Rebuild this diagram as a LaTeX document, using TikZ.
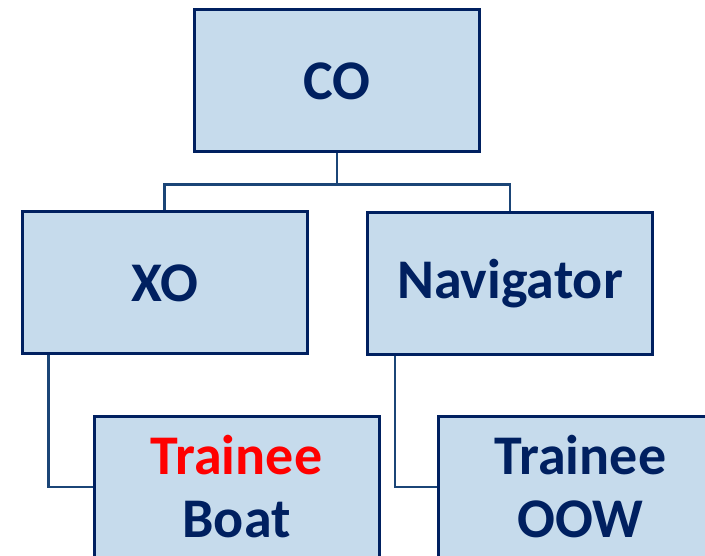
\documentclass[tikz,border=0pt]{standalone}
\usepackage{fontspec}
\setmainfont{Carlito}
\usetikzlibrary{calc}
\definecolor{boxfill}{HTML}{C6DBEC}
\definecolor{navy}{HTML}{002060}
\definecolor{linkblue}{HTML}{1B4577}
\definecolor{alertred}{HTML}{FF0000}
\begin{document}
\begin{tikzpicture}[x=1pt,y=-1pt,
  rolebox/.style={draw=navy,fill=boxfill,line width=3pt,minimum width=285pt,minimum height=142pt,
    inner sep=0pt,align=center,font=\fontsize{56}{63}\selectfont\bfseries,text=navy},
  link/.style={draw=linkblue,line width=2.4pt}]
\useasboundingbox (0,0) rectangle (705,556);
\clip (0,0) rectangle (705,556);
\node[rolebox] (co) at (337,81) {CO};
\node[rolebox] (xo) at (164.5,283) {XO};
\node[rolebox] (nav) at (510,284) {Navigator};
\node[rolebox] (boat) at (236.5,487) {\textcolor{alertred}{Trainee}\\Boat};
\node[rolebox] (oow) at (580.5,487) {Trainee\\OOW};
% chain of command
\draw[link] (co.south) |- ($(co.south)+(0,31)$) -| (xo.north);
\draw[link] ($(co.south)+(0,31)$) -| (nav.north);
\draw[link] ($(xo.south west)+(28,0)$) |- (boat.west);
\draw[link] ($(nav.south west)+(29,0)$) |- (oow.west);
\end{tikzpicture}
\end{document}
